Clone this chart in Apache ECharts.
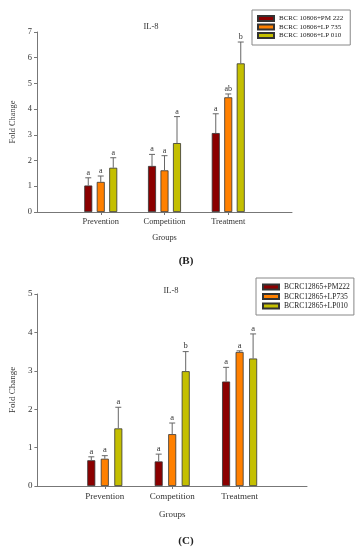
<!DOCTYPE html>
<html><head><meta charset="utf-8">
<script src="https://cdn.jsdelivr.net/npm/echarts@6/dist/echarts.min.js"></script>
<style>html,body{margin:0;padding:0;background:#fff}#c{width:362px;height:550px}</style>
</head><body><div id="c"></div>
<script>
// ---- data ----
const categories = ['', 'Prevention', 'Competition', 'Treatment', ''];
const titleB = 'IL-8', titleC = 'IL-8';
const namesB = ['BCRC 10806+PM 222', 'BCRC 10806+LP 735', 'BCRC 10806+LP 010'];
const namesC = ['BCRC12865+PM222', 'BCRC12865+LP735', 'BCRC12865+LP010'];
// panel B values (Prevention, Competition, Treatment)
const pm222B = [1.03, 1.79, 3.07];
const lp735B = [1.17, 1.62, 4.46];
const lp010B = [1.72, 2.68, 5.78];
// upper ends of error bars
const pm222BErr = [1.33, 2.24, 3.82];
const lp735BErr = [1.40, 2.19, 4.59];
const lp010BErr = [2.11, 3.71, 6.61];
const pm222BLet = ['a', 'a', 'a'];
const lp735BLet = ['a', 'a', 'ab'];
const lp010BLet = ['a', 'a', 'b'];
// panel C
const pm222C = [0.67, 0.64, 2.72];
const lp735C = [0.71, 1.35, 3.49];
const lp010C = [1.50, 2.99, 3.32];
const pm222CErr = [0.76, 0.83, 3.09];
const lp735CErr = [0.79, 1.64, 3.52];
const lp010CErr = [2.05, 3.50, 3.96];
const pm222CLet = ['a', 'a', 'a'];
const lp735CLet = ['a', 'a', 'a'];
const lp010CLet = ['a', 'b', 'a'];
const yMaxB = 7, yMaxC = 5;

// ---- styling ----
const FONT = '"Liberation Serif", "Times New Roman", serif';
const colors = ['#8b0000', '#ff8000', '#c4bf00'];
const pad = a => [null, ...a, null];

function errSeries(name, vals, errs, lets, gi, offset, fs) {
  return {
    type: 'custom', name: name, xAxisIndex: gi, yAxisIndex: gi, z: 5,
    data: vals.map((v, i) => [i + 1, v, errs[i], i]),
    renderItem: function (params, api) {
      const idx = api.value(0);
      const x = api.coord([idx, 0])[0] + offset;
      const yv = api.coord([idx, api.value(1)])[1];
      const ye = api.coord([idx, api.value(2)])[1];
      const ls = { stroke: '#666', lineWidth: 1 };
      return {
        type: 'group', children: [
          { type: 'line', shape: { x1: x, y1: yv, x2: x, y2: ye }, style: ls },
          { type: 'line', shape: { x1: x - 3, y1: ye, x2: x + 3, y2: ye }, style: ls },
          { type: 'text', style: { text: lets[api.value(3)], x: x, y: ye - 1, align: 'center', verticalAlign: 'bottom', fontSize: fs, fontFamily: FONT, fill: '#333' } }
        ]
      };
    }
  };
}
function barSeries(name, vals, gi, ci, gap) {
  return {
    type: 'bar', name: name, xAxisIndex: gi, yAxisIndex: gi, data: pad(vals),
    barWidth: 8, barGap: gap,
    itemStyle: { color: colors[ci], borderColor: '#333', borderWidth: 0.8 }
  };
}
function xAx(gi, fs, gap) {
  return {
    type: 'category', gridIndex: gi, data: categories, boundaryGap: false,
    axisLine: { lineStyle: { color: '#777', width: 1 } },
    axisTick: { show: true, length: 3, interval: (i) => i > 0 && i < categories.length - 1, lineStyle: { color: '#777' } },
    axisLabel: { fontFamily: FONT, fontSize: fs, color: '#333', margin: 6, interval: 0 },
    name: 'Groups', nameLocation: 'middle', nameGap: gap,
    nameTextStyle: { fontFamily: FONT, fontSize: fs, color: '#333' }
  };
}
function yAx(gi, max, fs, gap) {
  return {
    type: 'value', gridIndex: gi, min: 0, max: max, interval: 1,
    splitLine: { show: false },
    axisLine: { show: true, lineStyle: { color: '#777', width: 1 } },
    axisTick: { show: true, length: 3, lineStyle: { color: '#777' } },
    axisLabel: { fontFamily: FONT, fontSize: fs, color: '#333', margin: 5 },
    name: 'Fold Change', nameLocation: 'middle', nameGap: gap, nameRotate: 90,
    nameTextStyle: { fontFamily: FONT, fontSize: fs, color: '#333' }
  };
}

const chart = echarts.init(document.getElementById('c'), null, { renderer: 'canvas' });
chart.setOption({
  animation: false,
  backgroundColor: '#fff',
  title: [
    { text: titleB, left: 146, top: 17, textAlign: 'center', textStyle: { fontFamily: FONT, fontSize: 8.5, fontWeight: 'normal', color: '#333' } },
    { text: '(B)', left: 181, top: 251, textAlign: 'center', textStyle: { fontFamily: FONT, fontSize: 11, fontWeight: 'bold', color: '#222' } },
    { text: titleC, left: 166, top: 281, textAlign: 'center', textStyle: { fontFamily: FONT, fontSize: 8.5, fontWeight: 'normal', color: '#333' } },
    { text: '(C)', left: 181, top: 531, textAlign: 'center', textStyle: { fontFamily: FONT, fontSize: 11, fontWeight: 'bold', color: '#222' } }
  ],
  legend: [
    { data: namesB, left: 252, top: 10, orient: 'vertical', icon: 'rect', itemWidth: 16, itemHeight: 5, itemGap: 1.5,
      padding: [5, 7, 6, 5], borderColor: '#888', borderWidth: 1,
      textStyle: { fontFamily: FONT, fontSize: 7, color: '#222' } },
    { data: namesC, left: 256, top: 278, orient: 'vertical', icon: 'rect', itemWidth: 16, itemHeight: 5, itemGap: 1.5,
      padding: [5, 4, 5, 6], borderColor: '#888', borderWidth: 1,
      textStyle: { fontFamily: FONT, fontSize: 7.6, color: '#222' } }
  ],
  grid: [
    { left: 37, top: 32, width: 255, height: 180 },
    { left: 36, top: 294, width: 271, height: 192 }
  ],
  xAxis: [xAx(0, 8.4, 22), xAx(1, 9, 24)],
  yAxis: [yAx(0, yMaxB, 8.4, 18), yAx(1, yMaxC, 9, 19)],
  series: [
    barSeries(namesB[0], pm222B, 0, 0, '56%'),
    barSeries(namesB[1], lp735B, 0, 1, '56%'),
    barSeries(namesB[2], lp010B, 0, 2, '56%'),
    errSeries('eB0', pm222B, pm222BErr, pm222BLet, 0, -12.5, 8),
    errSeries('eB1', lp735B, lp735BErr, lp735BLet, 0, 0, 8),
    errSeries('eB2', lp010B, lp010BErr, lp010BLet, 0, 12.5, 8),
    barSeries(namesC[0], pm222C, 1, 0, '69%'),
    barSeries(namesC[1], lp735C, 1, 1, '69%'),
    barSeries(namesC[2], lp010C, 1, 2, '69%'),
    errSeries('eC0', pm222C, pm222CErr, pm222CLet, 1, -13.5, 8.5),
    errSeries('eC1', lp735C, lp735CErr, lp735CLet, 1, 0, 8.5),
    errSeries('eC2', lp010C, lp010CErr, lp010CLet, 1, 13.5, 8.5)
  ]
});
</script>
</body></html>
